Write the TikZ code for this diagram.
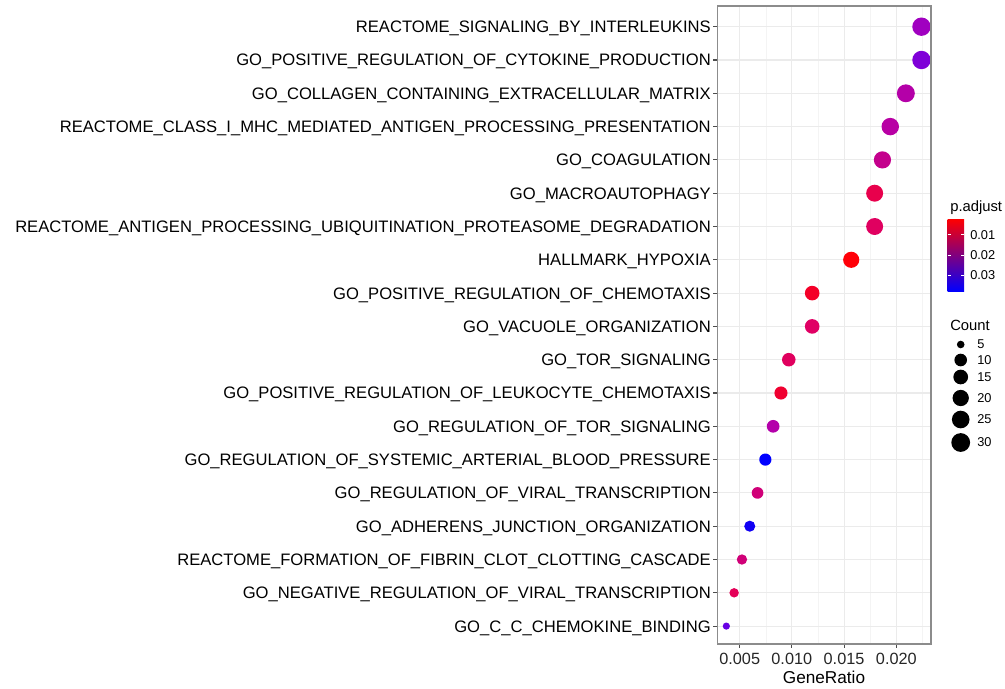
\documentclass[tikz,border=0pt]{standalone}
\usepackage{fontspec}
\setmainfont{Liberation Sans}
\usetikzlibrary{positioning}

\definecolor{gridmajor}{HTML}{EBEBEB}
\definecolor{gridminor}{HTML}{F4F4F4}
\definecolor{panelframe}{HTML}{8C8C8C}
\definecolor{tickgray}{HTML}{4D4D4D}
\definecolor{padjlow}{HTML}{FF0000}
\definecolor{padjmid}{HTML}{C2009A}
\definecolor{padjhigh}{HTML}{0000FF}

\begin{document}
\begin{tikzpicture}[x=0.75pt,y=-0.75pt,
  term/.style={anchor=base east,inner sep=0pt,font=\fontsize{12.45}{14}\selectfont},
  ticklabel/.style={anchor=base,inner sep=0pt,font=\fontsize{12.2}{14}\selectfont,text=black!85},
  legtitle/.style={anchor=base west,inner sep=0pt,font=\fontsize{11.1}{13}\selectfont},
  leglabel/.style={anchor=west,inner sep=0pt,font=\fontsize{9.6}{11}\selectfont},
  dotmark/.style={circle,inner sep=0pt,draw=none}]
  \useasboundingbox (0,0) rectangle (1005,688);

  \coordinate (pnw) at (717.3,6);
  \coordinate (pse) at (931,644);

  \foreach \v in {0.0075,0.0125,0.0175,0.0225}
    \draw[gridminor,line width=0.5pt] ({739.7+(\v-0.005)*10440},6) -- ({739.7+(\v-0.005)*10440},644);
  \foreach \v in {0.005,0.010,0.015,0.020} {
    \pgfmathsetmacro{\gx}{739.7+(\v-0.005)*10440}
    \draw[gridmajor,line width=0.8pt] (\gx,6) -- (\gx,644);
    \draw[tickgray,line width=0.8pt] (\gx,644) -- (\gx,648);
    \node[ticklabel] (x\v) at (\gx,664) {\v};
  }

  \foreach \i/\term/\cnt/\hex in {
    1/REACTOME\_SIGNALING\_BY\_INTERLEUKINS/30/A000C0,
    2/GO\_POSITIVE\_REGULATION\_OF\_CYTOKINE\_PRODUCTION/30/7F00D8,
    3/GO\_COLLAGEN\_CONTAINING\_EXTRACELLULAR\_MATRIX/28/B400A8,
    4/REACTOME\_CLASS\_I\_MHC\_MEDIATED\_ANTIGEN\_PROCESSING\_PRESENTATION/26/B800A4,
    5/GO\_COAGULATION/25/C4008C,
    6/GO\_MACROAUTOPHAGY/24/E8004C,
    7/REACTOME\_ANTIGEN\_PROCESSING\_UBIQUITINATION\_PROTEASOME\_DEGRADATION/24/E00060,
    8/HALLMARK\_HYPOXIA/21/FF0008,
    9/GO\_POSITIVE\_REGULATION\_OF\_CHEMOTAXIS/16/F40028,
    10/GO\_VACUOLE\_ORGANIZATION/16/E00064,
    11/GO\_TOR\_SIGNALING/13/E0005E,
    12/GO\_POSITIVE\_REGULATION\_OF\_LEUKOCYTE\_CHEMOTAXIS/12/F00030,
    13/GO\_REGULATION\_OF\_TOR\_SIGNALING/11/B400AA,
    14/GO\_REGULATION\_OF\_SYSTEMIC\_ARTERIAL\_BLOOD\_PRESSURE/10/0000FF,
    15/GO\_REGULATION\_OF\_VIRAL\_TRANSCRIPTION/9/D00078,
    16/GO\_ADHERENS\_JUNCTION\_ORGANIZATION/8/1000F4,
    17/REACTOME\_FORMATION\_OF\_FIBRIN\_CLOT\_CLOTTING\_CASCADE/7/D00078,
    18/GO\_NEGATIVE\_REGULATION\_OF\_VIRAL\_TRANSCRIPTION/6/E40058,
    19/GO\_C\_C\_CHEMOKINE\_BINDING/5/6800E4} {
    \pgfmathsetmacro{\ry}{26.7+33.3*(\i-1)}
    \pgfmathsetmacro{\rx}{739.7+(\cnt/1338-0.005)*10440}
    \pgfmathsetmacro{\rr}{3.6+5.6*sqrt((\cnt-5)/25)}
    \definecolor{dotfill}{HTML}{\hex}
    \draw[gridmajor,line width=0.8pt] (717.3,\ry) -- (931,\ry);
    \draw[tickgray,line width=0.8pt] (713.3,\ry) -- (717.3,\ry);
    \node[term] (t\i) at (711,\ry+5.9) {\term};
    \node[dotmark,fill=dotfill,minimum size={1.5*\rr}] (d\i) at (\rx,\ry) {};
  }

  \draw[panelframe,line width=0.8pt] (pnw) rectangle (pse);
  \node[anchor=base,inner sep=0pt,font=\fontsize{12.9}{15}\selectfont] (xtitle) at (824,683) {GeneRatio};

  \node[legtitle] (padjtitle) at (950,211.7) {p.adjust};
  \shade[top color=padjlow,middle color=padjmid,bottom color=padjhigh] (947.5,219) rectangle (964,291.3);
  \foreach \p/\py in {0.01/234.7,0.02/255,0.03/275} {
    \draw[white,line width=0.5pt] (947.5,\py) -- (950.5,\py);
    \draw[white,line width=0.5pt] (964,\py) -- (961,\py);
    \node[leglabel] (p\p) at (970,\py) {\p};
  }

  \node[legtitle] (cnttitle) at (950,330.7) {Count};
  \foreach \kc/\ky in {5/344.5,10/360,15/377,20/398,25/419.5,30/442.5} {
    \pgfmathsetmacro{\kr}{3.8+5.6*sqrt((\kc-5)/25)}
    \node[dotmark,fill=black,minimum size={1.5*\kr}] (k\kc) at (960.7,\ky) {};
    \node[leglabel] (kl\kc) at (977,\ky) {\kc};
  }
\end{tikzpicture}
\end{document}
